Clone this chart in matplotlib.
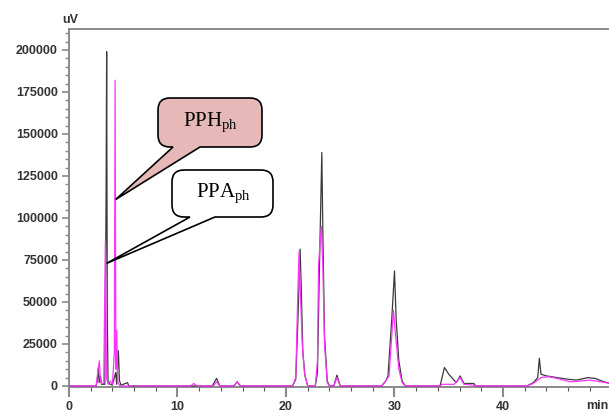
import numpy as np
import matplotlib
matplotlib.use("Agg")
import matplotlib.pyplot as plt
from matplotlib.path import Path
from matplotlib.patches import PathPatch
from matplotlib.ticker import MultipleLocator, FormatStrFormatter
from matplotlib.transforms import IdentityTransform

plt.rcParams["font.family"] = ["Liberation Sans Narrow", "Liberation Sans", "DejaVu Sans"]
plt.rcParams["font.weight"] = "bold"
plt.rcParams["mathtext.fontset"] = "custom"
plt.rcParams["mathtext.rm"] = "Liberation Serif:weight=normal"

# ---------- data ----------
# black trace: retention time (min), signal (uV)
t_black = [0, 2.5, 2.6, 2.7, 2.78, 2.9, 3.0, 3.3, 3.42, 3.47, 3.53, 3.6, 3.8, 4.0,
           4.3, 4.4, 4.55, 4.65, 4.8, 5.4, 5.5, 13.2, 13.6, 13.9, 15.2, 15.5, 15.8,
           20.6, 20.9, 21.1, 21.3, 21.4, 21.55, 21.75, 22.0, 22.7, 22.9, 23.05, 23.3,
           23.4, 23.55, 23.8, 24.0, 24.4, 24.7, 25.0, 28.8, 29.2, 29.4, 29.75, 30.0,
           30.15, 30.4, 30.7, 31.0, 34.2, 34.6, 35.0, 35.7, 36.05, 36.4, 37.3, 37.5,
           42.2, 42.8, 43.2, 43.35, 43.5, 44.0, 45.0, 46.0, 46.8, 47.8, 48.5, 49.3, 49.9]
v_black = [0, 0, 3000, 11000, 2000, 6000, 1000, 1000, 115000, 199000, 40000, 2000, 1000, 500,
           8000, 1000, 21000, 3000, 500, 2000, 0, 0, 4500, 0, 0, 2500, 0,
           0, 4000, 40000, 81500, 60000, 20000, 6000, 0, 0, 8000, 60000, 139000,
           90000, 30000, 3000, 0, 0, 6500, 0, 0, 3000, 6000, 40000, 68500,
           40000, 15000, 3000, 0, 0, 11000, 7000, 2000, 6000, 1500, 1500, 0,
           0, 2000, 5000, 16500, 7000, 6000, 5000, 4000, 3500, 5000, 4500, 2500, 1500]

# magenta trace
t_mag = [0, 2.5, 2.65, 2.8, 2.9, 3.0, 3.2, 3.35, 3.45, 3.6, 3.8, 4.0, 4.18, 4.25, 4.32,
         4.4, 4.5, 4.7, 5.8, 6.0, 6.2, 11.2, 11.5, 11.8, 13.3, 13.6, 13.9, 15.2, 15.5,
         15.8, 20.6, 20.9, 21.05, 21.2, 21.3, 21.5, 21.7, 22.0, 22.7, 22.9, 23.0, 23.25,
         23.4, 23.55, 23.8, 24.0, 24.4, 24.7, 25.0, 28.8, 29.2, 29.5, 29.75, 29.9, 30.1,
         30.4, 30.7, 31.0, 34.2, 34.4, 35.5, 36.05, 36.4, 37.3, 37.5, 42.2, 42.8, 43.1,
         43.5, 44.2, 45.0, 46.2, 47.2, 48.0, 49.0, 49.9]
v_mag = [0, 0, 8000, 15000, 3000, 1500, 1500, 86000, 5000, 1000, 3000, 1000, 20000, 182000, 10000,
         33000, 2000, 0, 0, -2000, 0, 0, 1500, 0, 0, 2500, 0, 0, 2500,
         0, 0, 5000, 45000, 80000, 60000, 25000, 8000, 0, 0, 15000, 72000, 95000,
         70000, 25000, 2000, 0, 0, 5000, 0, 0, 3000, 6000, 30000, 45000, 30000,
         10000, 2000, 0, 0, 1000, 1000, 5000, 1000, 500, 0, 0, 1500, 3000,
         5000, 5500, 4500, 2500, 3000, 3500, 2500, 1500]

# callouts: label, pointed-at (time, signal)
labels = ["PPH$_{\\rm ph}$", "PPA$_{\\rm ph}$"]
tips = [(4.3, 111000), (3.47, 73000)]

# ---------- figure ----------
W, H = 609, 412
fig = plt.figure(figsize=(W / 100, H / 100), dpi=100)
ax = fig.add_axes([69 / W, 1 - 387 / H, 1 - 69 / W, (387 - 29) / H])

ax.plot(t_black, v_black, color="#3a3a3a", lw=0.9, zorder=3)
ax.plot(t_mag, v_mag, color="#ff33ff", lw=0.9, zorder=4)

ax.set_xlim(0, 49.77)
ax.set_ylim(-600, 212500)

axcol = "#8a8a8a"
for side in ["left", "top", "bottom"]:
    ax.spines[side].set_color(axcol)
    ax.spines[side].set_linewidth(1.4)
ax.spines["right"].set_visible(False)

ax.yaxis.set_major_locator(MultipleLocator(25000))
ax.yaxis.set_minor_locator(MultipleLocator(5000))
ax.yaxis.set_major_formatter(FormatStrFormatter("%d"))
ax.xaxis.set_major_locator(MultipleLocator(10))
ax.xaxis.set_minor_locator(MultipleLocator(2))
ax.tick_params(axis="y", which="major", length=5, width=1.2, color=axcol, pad=3,
               labelsize=9, labelcolor="#333333")
ax.tick_params(axis="y", which="minor", length=3, width=1, color=axcol)
ax.tick_params(axis="x", which="major", length=7, width=1.5, color=axcol, pad=3,
               labelsize=9, labelcolor="#333333")
ax.tick_params(axis="x", which="minor", length=3, width=0.8, color="#555555")

fig.text(70 / W, 1 - 20 / H, "uV", ha="center", va="center", fontsize=9,
         color="#333333")
fig.text(608 / W, 1 - 406 / H, "min", ha="right", va="center", fontsize=9,
         color="#333333")


def bubble(x0, x1, ytop, ybot, b1, b2, tip, face, r=12):
    # box given in image pixels (y down); tip in display coords
    y1 = H - ytop
    y0 = H - ybot
    tx, ty = tip
    verts = [(x0 + r, y1), (x1 - r, y1), (x1, y1), (x1, y1 - r), (x1, y0 + r),
             (x1, y0), (x1 - r, y0), (b2, y0), (tx, ty), (b1, y0), (x0 + r, y0),
             (x0, y0), (x0, y0 + r), (x0, y1 - r), (x0, y1), (x0 + r, y1), (x0 + r, y1)]
    codes = [Path.MOVETO, Path.LINETO, Path.CURVE3, Path.CURVE3, Path.LINETO,
             Path.CURVE3, Path.CURVE3, Path.LINETO, Path.LINETO, Path.LINETO, Path.LINETO,
             Path.CURVE3, Path.CURVE3, Path.LINETO, Path.CURVE3, Path.CURVE3, Path.CLOSEPOLY]
    p = PathPatch(Path(verts, codes), facecolor=face, edgecolor="black", lw=1.2,
                  transform=IdentityTransform(), zorder=10)
    fig.add_artist(p)


fig.canvas.draw()
tip_px = [ax.transData.transform(t) for t in tips]
bubble(158, 262, 98, 147, 173, 200, tip_px[0], "#e6b9b8")
bubble(172, 273, 170, 217, 190, 215, tip_px[1], "white")

fig.text(210 / W, 1 - 123 / H, labels[0], ha="center", va="center", fontsize=15,
         family="Liberation Serif", fontweight="normal", zorder=11)
fig.text(223 / W, 1 - 194 / H, labels[1], ha="center", va="center", fontsize=15,
         family="Liberation Serif", fontweight="normal", zorder=11)

fig.savefig("out.png", dpi=100)
